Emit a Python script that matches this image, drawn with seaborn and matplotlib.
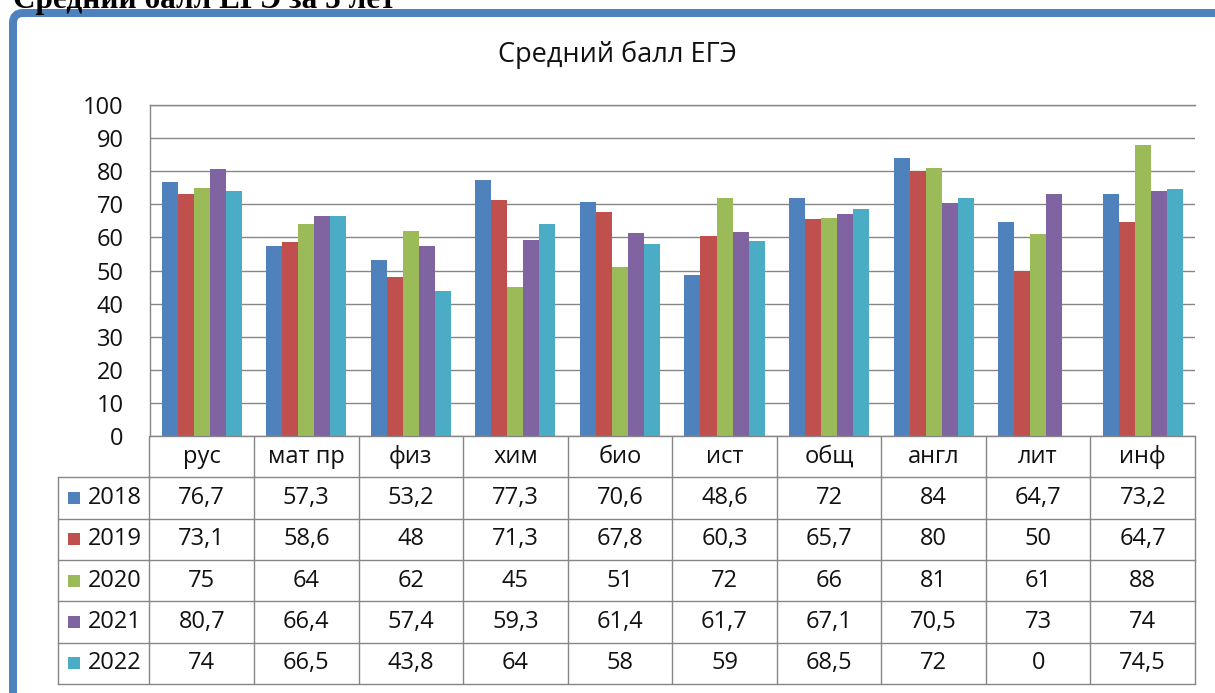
import matplotlib
matplotlib.use("Agg")
import matplotlib.pyplot as plt
import matplotlib.transforms as mtrans
from matplotlib.patches import FancyBboxPatch
import seaborn as sns
import pandas as pd

subjects = ["рус", "мат пр", "физ", "хим", "био", "ист", "общ", "англ", "лит", "инф"]
years = ["2018", "2019", "2020", "2021", "2022"]
y2018 = [76.7, 57.3, 53.2, 77.3, 70.6, 48.6, 72, 84, 64.7, 73.2]
y2019 = [73.1, 58.6, 48, 71.3, 67.8, 60.3, 65.7, 80, 50, 64.7]
y2020 = [75, 64, 62, 45, 51, 72, 66, 81, 61, 88]
y2021 = [80.7, 66.4, 57.4, 59.3, 61.4, 61.7, 67.1, 70.5, 73, 74]
y2022 = [74, 66.5, 43.8, 64, 58, 59, 68.5, 72, 0, 74.5]
series = [y2018, y2019, y2020, y2021, y2022]
colors = ["#4F81BD", "#C0504D", "#9BBB59", "#8064A2", "#4BACC6"]
title = "Средний балл ЕГЭ"
doc_title = "Средний балл ЕГЭ за 5 лет"
yticks = [0, 10, 20, 30, 40, 50, 60, 70, 80, 90, 100]

rows = []
for yr, vals in zip(years, series):
    for s, v in zip(subjects, vals):
        rows.append({"subject": s, "year": yr, "value": v})
df = pd.DataFrame(rows)

sns.set_style("white")
plt.rcParams["font.family"] = ["Open Sans", "DejaVu Sans"]

W, H = 1215, 693
fig = plt.figure(figsize=(W / 100, H / 100), dpi=100)

GRID = "#868686"
TXT = "#111111"
x0, x1, ytop, ybot = 149.5, 1195.0, 105.0, 436.0
tbot = 684.0
tleft = 58.0
colw = (x1 - x0) / 10

ax = fig.add_axes([x0 / W, (H - ybot) / H, (x1 - x0) / W, (ybot - ytop) / H])
sns.barplot(data=df, x="subject", y="value", hue="year", order=subjects,
            hue_order=years, palette=colors, saturation=1, width=0.766,
            linewidth=0, legend=False, ax=ax, errorbar=None)
ax.set_xlim(-0.5, 9.5)
ax.set_ylim(0, 100)
ax.set_yticks(yticks)
ax.set_yticklabels([str(t) for t in yticks], fontsize=17, color=TXT)
ax.tick_params(axis="y", length=0, pad=18.5)
ax.tick_params(axis="x", length=0, labelbottom=False)
ax.set_xlabel("")
ax.set_ylabel("")
ax.yaxis.grid(True, color=GRID, lw=1.0)
ax.set_axisbelow(True)
ax.spines["right"].set_visible(False)
for side in ["left", "top", "bottom"]:
    ax.spines[side].set_color(GRID)
    ax.spines[side].set_linewidth(1.0)

# data table
axt = fig.add_axes([tleft / W, (H - tbot) / H, (x1 - tleft) / W, (tbot - ybot) / H])
xl = -0.5 - (x0 - tleft) / colw
axt.set_xlim(xl, 9.5)
axt.set_ylim(6, 0)
axt.axis("off")
lw = 1.0
for r in range(1, 7):
    axt.plot([xl, 9.5], [r, r], color=GRID, lw=lw, clip_on=False, solid_capstyle="projecting")
for i in range(11):
    xv = i - 0.5
    axt.plot([xv, xv], [0, 6], color=GRID, lw=lw, clip_on=False)
axt.plot([xl, xl], [1, 6], color=GRID, lw=lw, clip_on=False)

fs = 17
for i, s in enumerate(subjects):
    axt.text(i, 0.5, s, ha="center", va="center", fontsize=fs, color=TXT)

def px2x(px):
    return -0.5 - (x0 - px) / colw

def fmt(v):
    return f"{v:g}".replace(".", ",")

for r, (yr, vals, c) in enumerate(zip(years, series, colors), start=1):
    axt.scatter([px2x(74)], [r + 0.5], marker="s", s=85, color=c, linewidths=0, clip_on=False)
    axt.text(px2x(88), r + 0.5, yr, ha="left", va="center", fontsize=fs, color=TXT)
    for i, v in enumerate(vals):
        axt.text(i, r + 0.5, fmt(v), ha="center", va="center", fontsize=fs, color=TXT)

fig.text(617 / W, 1 - 55 / H, title, ha="center", va="center", fontsize=19.5, color=TXT)
fig.text(13 / W, 1 - 8 / H, doc_title, ha="left", va="baseline", fontsize=22.5,
         family="Liberation Serif", weight="bold", color="black")

frame = FancyBboxPatch((13, -60), 1400, H - 13 + 60,
                       boxstyle="round,pad=0,rounding_size=10",
                       transform=mtrans.IdentityTransform(),
                       lw=8 * 0.72, ec="#4F81BD", fc="none")
fig.patches.append(frame)

fig.savefig("out.png", dpi=100)
